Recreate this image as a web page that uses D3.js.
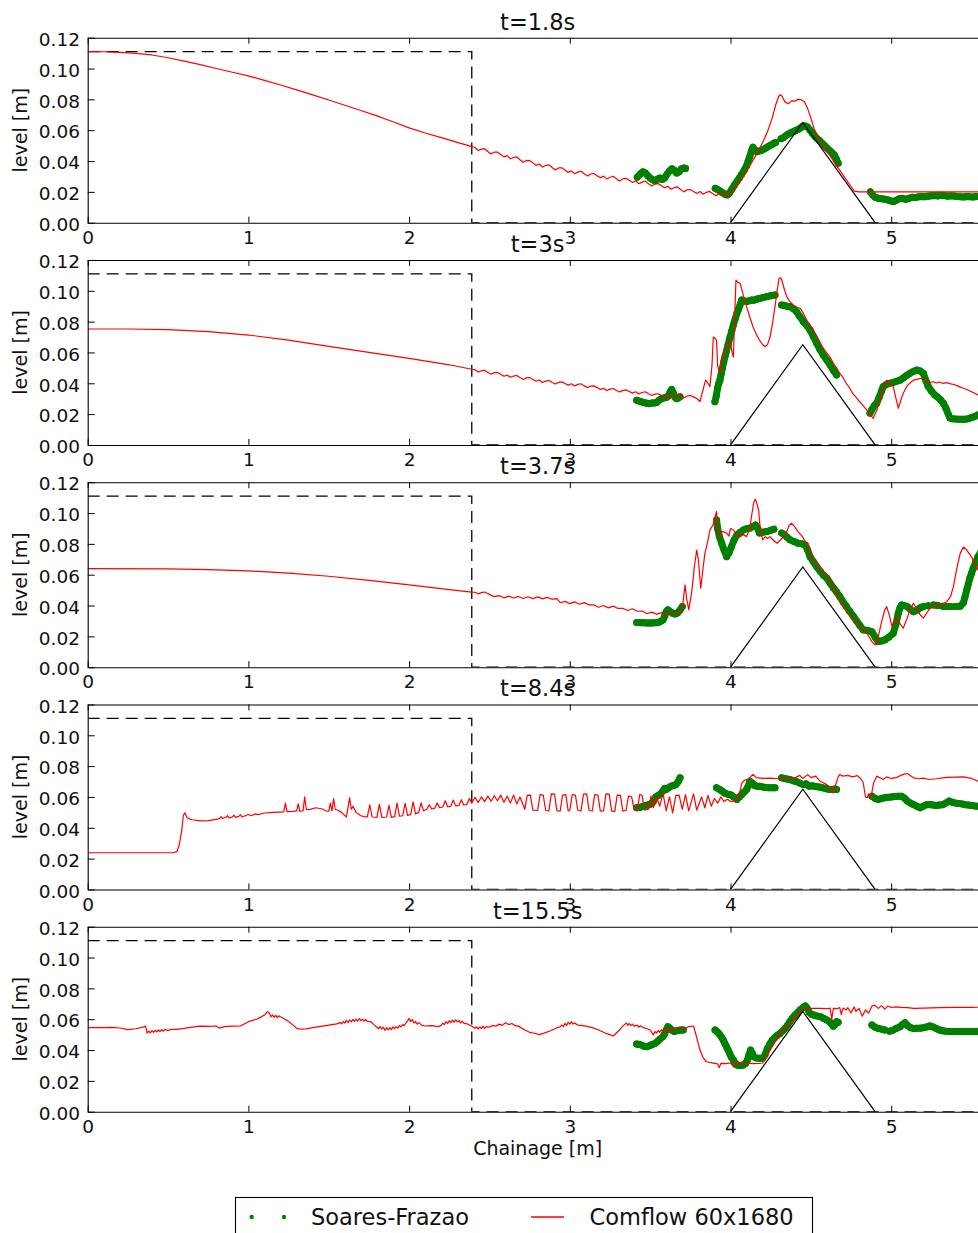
<!DOCTYPE html>
<html>
<head>
<meta charset="utf-8">
<script src="https://cdn.jsdelivr.net/npm/d3@7"></script>
<style>
  html, body { margin: 0; padding: 0; background: #fff; }
  svg { display: block; font-family: "DejaVu Sans", sans-serif; }
</style>
</head>
<body>
<svg id="chart" width="978" height="1233"></svg>
<script>
// ---------- axis ticks and labels ----------
const xTicks = [0, 1, 2, 3, 4, 5];
const yTicks = [0, 0.02, 0.04, 0.06, 0.08, 0.10, 0.12];
const panelTitles = ["t=1.8s", "t=3s", "t=3.7s", "t=8.4s", "t=15.5s"];
const xLabel = "Chainage [m]";
const yLabel = "level [m]";
const legendLabels = ["Soares-Frazao", "Comflow 60x1680"];

// ---------- geometry of the flume ----------
// initial reservoir level (dam at x = 2.39 m), then dry bed downstream
const initialLevel = [[0, 0.111], [2.39, 0.111], [2.39, 0], [5.6, 0]];
// triangular bottom sill
const obstacle = [[4.0, 0], [4.45, 0.065], [4.9, 0]];

// ---------- t = 1.8 s ----------
const comflow_1_8 = [
  [0,0.1110],[0.10,0.1109],[0.20,0.1105],[0.30,0.1098],[0.40,0.1088],[0.50,0.1070],[0.60,0.1048],[0.70,0.1025],
  [0.80,0.1000],[0.90,0.0976],[1.00,0.0952],[1.10,0.0923],[1.20,0.0893],[1.30,0.0862],[1.40,0.0829],[1.50,0.0796],
  [1.60,0.0762],[1.70,0.0728],[1.80,0.0693],[1.90,0.0655],[2.00,0.0615],[2.10,0.0582],[2.20,0.0552],[2.30,0.0521],[2.39,0.0493],
  [2.41,0.0488],[2.43,0.0468],[2.45,0.0477],[2.47,0.0480],[2.49,0.0462],[2.51,0.0446],[2.53,0.0458],[2.55,0.0458],
  [2.57,0.0443],[2.59,0.0427],[2.61,0.0435],[2.63,0.0415],[2.65,0.0423],[2.67,0.0427],[2.69,0.0408],[2.71,0.0392],
  [2.73,0.0403],[2.75,0.0404],[2.77,0.0388],[2.79,0.0372],[2.81,0.0381],[2.83,0.0361],[2.85,0.0371],[2.87,0.0375],
  [2.89,0.0358],[2.91,0.0342],[2.93,0.0355],[2.95,0.0356],[2.97,0.0342],[2.99,0.0326],[3.01,0.0336],[3.03,0.0318],
  [3.05,0.0328],[3.07,0.0334],[3.09,0.0317],[3.11,0.0303],[3.13,0.0316],[3.15,0.0319],[3.17,0.0305],[3.19,0.0291],
  [3.21,0.0302],[3.23,0.0284],[3.25,0.0295],[3.27,0.0301],[3.29,0.0285],[3.31,0.0271],[3.33,0.0285],[3.35,0.0288],
  [3.37,0.0275],[3.39,0.0261],[3.41,0.0271],[3.43,0.0253],[3.45,0.0263],[3.47,0.0269],[3.49,0.0252],[3.51,0.0238],
  [3.53,0.0251],[3.55,0.0254],[3.57,0.0240],[3.59,0.0226],[3.61,0.0236],[3.63,0.0217],[3.65,0.0227],[3.67,0.0232],
  [3.69,0.0215],[3.71,0.0200],[3.73,0.0213],[3.75,0.0215],[3.77,0.0203],[3.79,0.0190],[3.81,0.0202],[3.83,0.0185],
  [3.85,0.0197],[3.87,0.0203],[3.89,0.0188],[3.91,0.0175],[3.93,0.0190],[3.95,0.0194],[3.97,0.0170],
  [4.00,0.0190],[4.04,0.0245],[4.08,0.0300],[4.12,0.0370],[4.16,0.0440],[4.20,0.0520],[4.23,0.0590],[4.26,0.0680],
  [4.28,0.0760],[4.30,0.0820],[4.31,0.0830],[4.32,0.0822],[4.34,0.0782],[4.36,0.0772],[4.38,0.0790],[4.40,0.0788],
  [4.42,0.0800],[4.44,0.0798],[4.46,0.0785],[4.48,0.0740],[4.50,0.0680],[4.52,0.0610],[4.56,0.0530],[4.60,0.0465],
  [4.64,0.0400],[4.68,0.0340],[4.72,0.0280],[4.75,0.0235],[4.77,0.0205],[4.80,0.0200],[5.00,0.0200],[5.20,0.0200],
  [5.40,0.0200],[5.60,0.0200]
];
const soares_1_8 = [
  [3.42,0.0295],[3.44,0.0318],[3.455,0.0330],[3.47,0.0322],[3.485,0.0305],[3.50,0.0290],[3.515,0.0278],[3.53,0.0272],
  [3.545,0.0282],[3.56,0.0290],[3.575,0.0280],[3.59,0.0290],[3.605,0.0315],[3.62,0.0335],[3.635,0.0350],[3.65,0.0340],
  [3.665,0.0322],[3.68,0.0330],[3.695,0.0350],[3.71,0.0355],[3.72,0.0352],
  [3.905,0.0223],[3.92,0.0215],[3.935,0.0205],[3.95,0.0195],[3.965,0.0185],[3.98,0.0180],[3.995,0.0195],[4.01,0.0220],
  [4.025,0.0245],[4.04,0.0268],[4.055,0.0290],[4.07,0.0315],[4.085,0.0340],[4.10,0.0370],[4.11,0.0400],[4.12,0.0430],
  [4.13,0.0465],[4.14,0.0490],[4.15,0.0475],[4.165,0.0460],[4.18,0.0465],[4.195,0.0470],[4.21,0.0478],[4.225,0.0488],
  [4.24,0.0498],[4.255,0.0505],[4.27,0.0515],[4.28,0.0520],
  [4.315,0.0545],[4.33,0.0552],[4.345,0.0565],[4.36,0.0575],[4.375,0.0583],[4.39,0.0590],[4.405,0.0598],[4.42,0.0605],
  [4.435,0.0615],[4.45,0.0625],[4.465,0.0628],[4.48,0.0620],[4.495,0.0600],[4.51,0.0580],[4.525,0.0560],[4.54,0.0545],
  [4.555,0.0532],[4.57,0.0515],[4.585,0.0500],[4.60,0.0485],[4.615,0.0470],[4.63,0.0455],[4.645,0.0440],[4.66,0.0410],
  [4.67,0.0385],
  [4.87,0.0200],[4.885,0.0180],[4.90,0.0165],[4.92,0.0158],[4.94,0.0155],[4.96,0.0152],[4.98,0.0148],[5.00,0.0140],
  [5.015,0.0137],[5.03,0.0145],[5.05,0.0155],[5.07,0.0158],[5.09,0.0152],[5.11,0.0158],[5.13,0.0165],[5.15,0.0163],
  [5.17,0.0168],[5.19,0.0170],[5.21,0.0168],[5.23,0.0172],[5.25,0.0175],[5.27,0.0176],[5.29,0.0174],[5.31,0.0178],
  [5.33,0.0176],[5.35,0.0172],[5.37,0.0175],[5.39,0.0173],[5.41,0.0170],[5.43,0.0168],[5.45,0.0166],[5.47,0.0170],
  [5.49,0.0168],[5.51,0.0167],[5.53,0.0170],[5.55,0.0170],[5.57,0.0170],[5.59,0.0170]
];

// ---------- t = 3 s ----------
const comflow_3 = [
  [0,0.0752],[0.25,0.0752],[0.50,0.0748],[0.75,0.0735],[1.00,0.0713],[1.25,0.0680],[1.50,0.0640],[1.75,0.0600],
  [2.00,0.0562],[2.25,0.0520],[2.39,0.0491],
  [2.41,0.0488],[2.43,0.0473],[2.45,0.0481],[2.47,0.0485],[2.49,0.0470],[2.51,0.0459],[2.53,0.0469],[2.55,0.0470],
  [2.57,0.0459],[2.59,0.0446],[2.61,0.0454],[2.63,0.0439],[2.65,0.0447],[2.67,0.0451],[2.69,0.0437],[2.71,0.0425],
  [2.73,0.0435],[2.75,0.0437],[2.77,0.0425],[2.79,0.0413],[2.81,0.0421],[2.83,0.0405],[2.85,0.0414],[2.87,0.0419],
  [2.89,0.0405],[2.91,0.0395],[2.93,0.0406],[2.95,0.0409],[2.97,0.0399],[2.99,0.0388],[3.01,0.0397],[3.03,0.0383],
  [3.05,0.0393],[3.07,0.0397],[3.09,0.0383],[3.11,0.0372],[3.13,0.0382],[3.15,0.0383],[3.17,0.0372],[3.19,0.0360],
  [3.21,0.0368],[3.23,0.0353],[3.25,0.0362],[3.27,0.0366],[3.29,0.0353],[3.31,0.0343],[3.33,0.0354],[3.35,0.0357],
  [3.37,0.0347],[3.39,0.0336],[3.41,0.0345],[3.43,0.0330],[3.45,0.0340],[3.47,0.0345],[3.49,0.0332],[3.51,0.0321],
  [3.53,0.0330],[3.55,0.0332],[3.57,0.0320],[3.59,0.0309],[3.61,0.0320],[3.63,0.0307],[3.65,0.0319],[3.67,0.0325],
  [3.69,0.0314],[3.71,0.0305],[3.73,0.0317],[3.75,0.0321],[3.77,0.0312],[3.79,0.0301],[3.81,0.0282],
  [3.83,0.0360],[3.845,0.0420],[3.86,0.0400],[3.872,0.0378],[3.885,0.0520],[3.893,0.0700],[3.905,0.0690],[3.913,0.0680],
  [3.92,0.0510],[3.934,0.0466],[3.95,0.0560],[3.966,0.0616],[3.985,0.0660],[3.997,0.0680],[4.01,0.0600],[4.018,0.0570],
  [4.025,0.0800],[4.034,0.1070],[4.045,0.1055],[4.06,0.1048],[4.08,0.0970],[4.10,0.0897],[4.12,0.0830],[4.14,0.0767],
  [4.16,0.0720],[4.18,0.0680],[4.20,0.0650],[4.215,0.0638],[4.23,0.0650],[4.246,0.0700],[4.26,0.0780],[4.277,0.0897],
  [4.29,0.1000],[4.302,0.1080],[4.31,0.1085],[4.318,0.1075],[4.335,0.1010],[4.35,0.0962],[4.37,0.0930],[4.39,0.0908],
  [4.41,0.0895],[4.432,0.0887],[4.45,0.0860],[4.474,0.0810],[4.495,0.0775],[4.515,0.0746],[4.54,0.0700],[4.57,0.0640],
  [4.60,0.0595],[4.62,0.0568],[4.64,0.0530],[4.66,0.0500],[4.68,0.0465],[4.70,0.0438],[4.72,0.0400],[4.74,0.0372],
  [4.76,0.0335],[4.78,0.0312],[4.80,0.0285],[4.82,0.0262],[4.847,0.0227],[4.87,0.0195],[4.888,0.0173],[4.91,0.0225],
  [4.93,0.0290],[4.95,0.0360],[4.97,0.0420],[4.99,0.0400],[5.013,0.0378],[5.03,0.0300],[5.044,0.0238],[5.06,0.0290],
  [5.075,0.0335],[5.10,0.0385],[5.12,0.0405],[5.138,0.0420],[5.16,0.0425],[5.18,0.0433],[5.20,0.0425],[5.22,0.0418],
  [5.24,0.0404],[5.26,0.0410],[5.28,0.0402],[5.30,0.0408],[5.32,0.0400],[5.346,0.0404],[5.37,0.0396],[5.39,0.0392],
  [5.41,0.0385],[5.43,0.0375],[5.45,0.0368],[5.47,0.0360],[5.49,0.0350],[5.51,0.0340],[5.54,0.0324],[5.57,0.0315],
  [5.60,0.0310]
];
const soares_3 = [
  [3.416,0.0290],[3.43,0.0285],[3.445,0.0280],[3.46,0.0276],[3.478,0.0270],[3.495,0.0268],[3.51,0.0272],[3.525,0.0272],
  [3.54,0.0275],[3.555,0.0290],[3.57,0.0300],[3.585,0.0305],[3.60,0.0308],[3.615,0.0320],[3.625,0.0345],[3.634,0.0360],
  [3.645,0.0335],[3.655,0.0310],[3.665,0.0300],[3.675,0.0305],[3.686,0.0313],
  [3.903,0.0280],[3.912,0.0320],[3.92,0.0370],[3.927,0.0400],[3.934,0.0420],[3.942,0.0460],[3.95,0.0500],[3.958,0.0540],
  [3.966,0.0573],[3.975,0.0610],[3.985,0.0650],[3.997,0.0700],[4.008,0.0740],[4.018,0.0780],[4.03,0.0820],[4.04,0.0854],
  [4.05,0.0880],[4.06,0.0910],[4.07,0.0940],[4.085,0.0935],[4.10,0.0930],[4.115,0.0935],[4.13,0.0940],[4.145,0.0938],
  [4.16,0.0945],[4.18,0.0950],[4.20,0.0955],[4.225,0.0962],[4.25,0.0968],[4.277,0.0973],
  [4.318,0.0908],[4.335,0.0905],[4.35,0.0900],[4.37,0.0897],[4.39,0.0885],[4.41,0.0865],[4.43,0.0835],[4.453,0.0800],
  [4.475,0.0775],[4.495,0.0746],[4.515,0.0705],[4.536,0.0660],[4.556,0.0620],[4.577,0.0584],[4.60,0.0550],[4.62,0.0519],
  [4.64,0.0485],[4.66,0.0454],
  [4.868,0.0206],[4.88,0.0230],[4.895,0.0255],[4.91,0.0270],[4.925,0.0310],[4.94,0.0350],[4.95,0.0378],[4.97,0.0392],
  [4.99,0.0400],[5.01,0.0405],[5.03,0.0412],[5.055,0.0420],[5.075,0.0435],[5.095,0.0450],[5.117,0.0465],[5.14,0.0478],
  [5.16,0.0486],[5.18,0.0480],[5.20,0.0465],[5.215,0.0420],[5.23,0.0380],[5.25,0.0350],[5.27,0.0325],[5.29,0.0310],
  [5.305,0.0295],[5.325,0.0270],[5.34,0.0240],[5.355,0.0200],[5.366,0.0175],[5.38,0.0170],[5.40,0.0168],[5.42,0.0167],
  [5.44,0.0166],[5.46,0.0167],[5.48,0.0170],[5.50,0.0178],[5.52,0.0185],[5.54,0.0195],[5.56,0.0200],[5.58,0.0205],
  [5.60,0.0210]
];

// ---------- t = 3.7 s ----------
const comflow_3_7 = [
  [0,0.0640],[0.50,0.0638],[0.75,0.0633],[1.00,0.0625],[1.25,0.0610],[1.50,0.0590],[1.75,0.0563],[2.00,0.0534],
  [2.25,0.0503],[2.39,0.0487],
  [2.41,0.0486],[2.43,0.0476],[2.45,0.0484],[2.47,0.0488],[2.49,0.0478],[2.51,0.0466],[2.53,0.0458],[2.56,0.0464],
  [2.59,0.0450],[2.62,0.0461],[2.65,0.0449],[2.68,0.0459],[2.71,0.0446],[2.74,0.0457],[2.77,0.0445],[2.80,0.0456],
  [2.83,0.0443],[2.86,0.0453],[2.89,0.0441],[2.92,0.0445],[2.94,0.0418],[2.97,0.0427],[3.00,0.0412],[3.03,0.0424],
  [3.06,0.0408],[3.09,0.0419],[3.12,0.0404],[3.15,0.0404],[3.18,0.0389],[3.21,0.0400],[3.24,0.0385],[3.27,0.0396],
  [3.30,0.0381],[3.33,0.0382],[3.36,0.0368],[3.39,0.0379],[3.42,0.0363],[3.45,0.0364],[3.48,0.0347],[3.51,0.0357],
  [3.54,0.0343],[3.57,0.0354],[3.60,0.0341],[3.63,0.0353],[3.66,0.0350],[3.686,0.0360],
  [3.70,0.0380],[3.717,0.0534],
  [3.728,0.0440],[3.74,0.0372],[3.758,0.0480],[3.775,0.0650],[3.79,0.0760],[3.80,0.0700],[3.815,0.0512],[3.83,0.0650],
  [3.841,0.0740],[3.855,0.0800],[3.872,0.0890],[3.89,0.0920],[3.905,0.0980],[3.913,0.1010],[3.92,0.0900],[3.93,0.0847],
  [3.95,0.0880],[3.976,0.0870],[3.99,0.0850],[4.00,0.0900],[4.018,0.0890],[4.04,0.0860],[4.06,0.0847],[4.08,0.0860],
  [4.10,0.0847],[4.12,0.0900],[4.134,0.1000],[4.145,0.1070],[4.155,0.1090],[4.165,0.1060],[4.175,0.1020],[4.185,0.0900],
  [4.20,0.0826],[4.216,0.0847],[4.23,0.0835],[4.246,0.0847],[4.26,0.0830],[4.275,0.0815],[4.29,0.0804],[4.31,0.0825],
  [4.33,0.0847],[4.35,0.0880],[4.365,0.0920],[4.38,0.0934],[4.40,0.0910],[4.42,0.0880],[4.445,0.0850],[4.466,0.0815],
  [4.49,0.0755],[4.515,0.0696],[4.54,0.0660],[4.57,0.0625],[4.60,0.0588],[4.62,0.0555],[4.64,0.0515],[4.66,0.0478],
  [4.68,0.0437],[4.70,0.0405],[4.72,0.0370],[4.74,0.0345],[4.766,0.0307],[4.79,0.0282],[4.81,0.0260],[4.83,0.0240],
  [4.85,0.0220],[4.88,0.0165],[4.90,0.0145],[4.92,0.0200],[4.943,0.0307],[4.96,0.0370],[4.972,0.0393],[4.99,0.0330],
  [5.005,0.0263],[5.02,0.0300],[5.034,0.0328],[5.05,0.0290],[5.075,0.0253],[5.10,0.0320],[5.12,0.0380],[5.138,0.0415],
  [5.16,0.0380],[5.18,0.0340],[5.20,0.0318],[5.22,0.0350],[5.24,0.0380],[5.263,0.0393],[5.29,0.0400],[5.32,0.0408],
  [5.346,0.0425],[5.37,0.0460],[5.387,0.0523],[5.41,0.0650],[5.43,0.0740],[5.45,0.0780],[5.47,0.0760],[5.49,0.0730],
  [5.51,0.0696],[5.53,0.0660],[5.54,0.0630],[5.57,0.0600],[5.60,0.0580]
];
const soares_3_7 = [
  [3.416,0.0290],[3.43,0.0290],[3.445,0.0289],[3.46,0.0288],[3.478,0.0287],[3.495,0.0286],[3.51,0.0287],[3.525,0.0288],
  [3.54,0.0289],[3.555,0.0292],[3.57,0.0300],[3.58,0.0307],[3.59,0.0330],[3.60,0.0360],[3.61,0.0372],[3.625,0.0360],
  [3.64,0.0350],[3.655,0.0345],[3.67,0.0352],[3.685,0.0370],[3.70,0.0393],
  [3.913,0.0955],[3.92,0.0900],[3.93,0.0850],[3.945,0.0804],[3.96,0.0760],[3.976,0.0717],[3.99,0.0740],[4.005,0.0780],
  [4.02,0.0820],[4.04,0.0858],[4.06,0.0875],[4.08,0.0890],[4.10,0.0898],[4.12,0.0902],[4.14,0.0912],[4.155,0.0923],
  [4.17,0.0900],[4.18,0.0870],[4.20,0.0875],[4.225,0.0880],[4.25,0.0888],[4.27,0.0895],
  [4.318,0.0870],[4.335,0.0860],[4.35,0.0845],[4.37,0.0826],[4.395,0.0815],[4.42,0.0804],[4.445,0.0800],[4.466,0.0793],
  [4.48,0.0760],[4.495,0.0717],[4.515,0.0685],[4.536,0.0653],[4.56,0.0620],[4.58,0.0595],[4.60,0.0577],[4.62,0.0545],
  [4.64,0.0515],[4.66,0.0488],[4.68,0.0458],[4.70,0.0425],[4.72,0.0395],[4.74,0.0365],[4.766,0.0328],[4.785,0.0300],
  [4.805,0.0270],[4.826,0.0242],[4.845,0.0240],[4.865,0.0235],[4.88,0.0230],[4.90,0.0195],[4.92,0.0166],[4.94,0.0170],
  [4.96,0.0177],[4.985,0.0195],[5.013,0.0220],[5.03,0.0280],[5.044,0.0350],[5.055,0.0385],[5.065,0.0404],[5.08,0.0400],
  [5.10,0.0393],[5.12,0.0375],[5.138,0.0360],[5.16,0.0370],[5.18,0.0385],[5.20,0.0393],[5.23,0.0398],[5.263,0.0404],
  [5.29,0.0400],[5.32,0.0396],[5.346,0.0393],[5.37,0.0393],[5.40,0.0393],[5.43,0.0395],[5.45,0.0420],[5.46,0.0460],
  [5.47,0.0500],[5.48,0.0540],[5.49,0.0580],[5.50,0.0610],[5.51,0.0640],[5.525,0.0680],[5.54,0.0717],[5.56,0.0750],
  [5.58,0.0760],[5.60,0.0765]
];

// ---------- t = 8.4 s ----------
const comflow_8_4 = [
  [0,0.0238],[0.20,0.0238],[0.40,0.0238],[0.53,0.0238],[0.555,0.0245],[0.57,0.0290],[0.585,0.0380],[0.595,0.0480],
  [0.605,0.0497],[0.616,0.0470],[0.63,0.0458],[0.65,0.0452],[0.70,0.0445],[0.75,0.0447],[0.80,0.0455],[0.82,0.0460],
  [0.83,0.0472],[0.84,0.0460],[0.86,0.0468],[0.87,0.0478],[0.88,0.0464],[0.90,0.0470],[0.91,0.0482],[0.92,0.0468],
  [0.94,0.0474],[0.95,0.0485],[0.96,0.0470],[0.98,0.0478],[1.00,0.0486],[1.02,0.0478],[1.04,0.0490],[1.06,0.0485],
  [1.10,0.0496],[1.15,0.0500],[1.20,0.0502],[1.22,0.0503],[1.23,0.0560],[1.24,0.0505],[1.28,0.0506],[1.30,0.0510],
  [1.31,0.0555],[1.32,0.0508],[1.34,0.0510],[1.35,0.0600],[1.36,0.0520],[1.38,0.0518],[1.42,0.0530],[1.46,0.0522],
  [1.48,0.0510],[1.50,0.0508],[1.51,0.0560],[1.52,0.0510],[1.53,0.0590],[1.54,0.0520],[1.56,0.0512],[1.58,0.0500],
  [1.60,0.0480],[1.61,0.0470],[1.63,0.0595],[1.64,0.0520],[1.65,0.0540],[1.67,0.0500],[1.70,0.0478],[1.72,0.0472],
  [1.74,0.0470],[1.755,0.0548],[1.77,0.0470],[1.80,0.0468],[1.815,0.0552],[1.83,0.0468],[1.86,0.0470],[1.875,0.0545],
  [1.89,0.0468],[1.91,0.0472],[1.925,0.0560],[1.94,0.0475],[1.96,0.0478],[1.975,0.0558],[1.99,0.0480],[2.01,0.0485],
  [2.025,0.0568],[2.04,0.0490],[2.06,0.0500],[2.075,0.0562],[2.09,0.0510],[2.11,0.0520],[2.125,0.0550],[2.14,0.0522],
  [2.16,0.0528],[2.175,0.0560],[2.19,0.0530],[2.21,0.0535],[2.225,0.0575],[2.24,0.0535],[2.26,0.0540],[2.275,0.0580],
  [2.29,0.0542],[2.31,0.0545],[2.325,0.0582],[2.34,0.0548],[2.36,0.0552],[2.375,0.0590],[2.39,0.0560],
  [2.41,0.0598],[2.43,0.0565],[2.45,0.0600],[2.47,0.0570],[2.49,0.0605],[2.51,0.0572],[2.53,0.0608],[2.55,0.0575],
  [2.57,0.0612],[2.59,0.0565],[2.61,0.0605],[2.63,0.0560],[2.65,0.0612],[2.67,0.0555],[2.69,0.0600],
  [2.72,0.0520],[2.735,0.0610],[2.755,0.0612],[2.77,0.0515],[2.80,0.0512],[2.815,0.0615],[2.835,0.0610],[2.85,0.0512],
  [2.87,0.0510],[2.885,0.0620],[2.905,0.0618],[2.92,0.0510],[2.94,0.0508],[2.955,0.0612],[2.975,0.0615],[2.99,0.0510],
  [3.00,0.0512],[3.015,0.0615],[3.035,0.0612],[3.05,0.0512],[3.07,0.0510],[3.085,0.0618],[3.105,0.0620],[3.12,0.0512],
  [3.14,0.0510],[3.155,0.0615],[3.175,0.0612],[3.19,0.0508],[3.21,0.0510],[3.225,0.0620],[3.245,0.0618],[3.26,0.0510],
  [3.28,0.0505],[3.295,0.0612],[3.315,0.0610],[3.33,0.0508],[3.35,0.0512],[3.365,0.0605],[3.385,0.0600],[3.40,0.0520],
  [3.42,0.0515],[3.435,0.0615],[3.45,0.0610],[3.465,0.0515],[3.49,0.0520],[3.505,0.0605],[3.52,0.0530],[3.54,0.0600],
  [3.56,0.0540],[3.58,0.0625],[3.60,0.0510],[3.62,0.0600],[3.64,0.0497],[3.66,0.0610],[3.68,0.0612],[3.70,0.0520],
  [3.72,0.0615],[3.74,0.0510],[3.77,0.0620],[3.79,0.0515],[3.82,0.0600],[3.84,0.0530],[3.86,0.0610],[3.88,0.0540],
  [3.90,0.0590],[3.92,0.0560],[3.94,0.0600],[3.96,0.0570],[3.98,0.0585],[4.00,0.0570],[4.018,0.0573],
  [4.05,0.0595],[4.07,0.0690],[4.09,0.0710],[4.11,0.0715],[4.14,0.0746],[4.16,0.0725],[4.20,0.0720],[4.25,0.0722],
  [4.30,0.0718],[4.33,0.0725],[4.36,0.0715],[4.40,0.0722],[4.43,0.0740],[4.45,0.0720],[4.48,0.0745],[4.50,0.0725],
  [4.53,0.0735],[4.56,0.0700],[4.60,0.0680],[4.62,0.0650],[4.64,0.0627],[4.655,0.0680],[4.67,0.0730],[4.68,0.0746],
  [4.70,0.0735],[4.73,0.0740],[4.76,0.0730],[4.79,0.0738],[4.81,0.0720],[4.826,0.0692],[4.84,0.0600],[4.85,0.0595],
  [4.86,0.0620],[4.875,0.0600],[4.89,0.0690],[4.91,0.0735],[4.93,0.0725],[4.95,0.0713],[4.97,0.0730],[5.00,0.0720],
  [5.03,0.0725],[5.06,0.0740],[5.08,0.0748],[5.10,0.0752],[5.12,0.0738],[5.14,0.0724],[5.17,0.0718],[5.20,0.0722],
  [5.24,0.0713],[5.28,0.0718],[5.32,0.0724],[5.35,0.0727],[5.40,0.0728],[5.45,0.0730],[5.50,0.0720],[5.54,0.0702],
  [5.58,0.0695],[5.60,0.0690]
];
const soares_8_4 = [
  [3.416,0.0530],[3.43,0.0532],[3.445,0.0535],[3.46,0.0540],[3.475,0.0545],[3.49,0.0550],[3.505,0.0555],[3.52,0.0570],
  [3.535,0.0600],[3.55,0.0610],[3.565,0.0620],[3.58,0.0640],[3.59,0.0655],[3.60,0.0649],[3.615,0.0660],[3.63,0.0670],
  [3.645,0.0675],[3.66,0.0680],[3.675,0.0700],[3.686,0.0724],
  [3.913,0.0660],[3.93,0.0650],[3.945,0.0640],[3.96,0.0627],[3.975,0.0620],[3.99,0.0616],[4.005,0.0612],[4.02,0.0600],
  [4.04,0.0584],[4.055,0.0600],[4.07,0.0616],[4.085,0.0632],[4.10,0.0649],[4.11,0.0670],[4.12,0.0702],[4.135,0.0690],
  [4.15,0.0675],[4.165,0.0670],[4.18,0.0670],[4.20,0.0665],[4.22,0.0662],[4.24,0.0660],[4.26,0.0660],[4.277,0.0660],
  [4.318,0.0724],[4.335,0.0720],[4.35,0.0716],[4.37,0.0713],[4.39,0.0705],[4.41,0.0700],[4.43,0.0690],[4.453,0.0680],
  [4.47,0.0685],[4.49,0.0670],[4.51,0.0672],[4.53,0.0668],[4.55,0.0665],[4.57,0.0660],[4.59,0.0655],[4.61,0.0650],
  [4.63,0.0649],[4.65,0.0652],[4.66,0.0649],
  [4.88,0.0605],[4.90,0.0590],[4.92,0.0584],[4.94,0.0590],[4.96,0.0595],[4.98,0.0598],[5.00,0.0600],[5.02,0.0603],
  [5.045,0.0605],[5.065,0.0605],[5.085,0.0590],[5.10,0.0573],[5.12,0.0560],[5.14,0.0550],[5.16,0.0540],[5.18,0.0530],
  [5.20,0.0540],[5.22,0.0550],[5.24,0.0551],[5.26,0.0548],[5.28,0.0545],[5.30,0.0548],[5.32,0.0550],[5.34,0.0560],
  [5.36,0.0573],[5.38,0.0565],[5.40,0.0560],[5.42,0.0558],[5.44,0.0555],[5.46,0.0550],[5.48,0.0548],[5.50,0.0545],
  [5.52,0.0542],[5.54,0.0540],[5.56,0.0538],[5.58,0.0535],[5.60,0.0535]
];

// ---------- t = 15.5 s ----------
const comflow_15_5 = [
  [0,0.0545],[0.05,0.0546],[0.10,0.0545],[0.15,0.0547],[0.20,0.0543],[0.25,0.0532],[0.30,0.0538],[0.35,0.0550],
  [0.36,0.0556],[0.37,0.0509],[0.38,0.0522],[0.39,0.0512],[0.40,0.0526],[0.41,0.0514],[0.42,0.0528],[0.43,0.0518],
  [0.44,0.0530],[0.45,0.0520],[0.46,0.0532],[0.47,0.0522],[0.48,0.0534],[0.50,0.0526],[0.52,0.0534],[0.55,0.0534],
  [0.60,0.0540],[0.65,0.0548],[0.70,0.0555],[0.75,0.0553],[0.80,0.0556],[0.82,0.0542],[0.85,0.0552],[0.90,0.0555],
  [0.95,0.0556],[1.00,0.0584],[1.05,0.0600],[1.08,0.0615],[1.10,0.0627],[1.12,0.0649],[1.13,0.0640],[1.14,0.0615],
  [1.15,0.0628],[1.16,0.0612],[1.17,0.0625],[1.18,0.0610],[1.19,0.0622],[1.20,0.0616],[1.22,0.0605],[1.25,0.0585],
  [1.28,0.0560],[1.30,0.0541],[1.33,0.0535],[1.36,0.0537],[1.40,0.0545],[1.45,0.0553],[1.50,0.0562],[1.55,0.0570],
  [1.57,0.0578],[1.58,0.0570],[1.59,0.0585],[1.60,0.0575],[1.61,0.0592],[1.62,0.0580],[1.63,0.0595],[1.64,0.0583],
  [1.65,0.0598],[1.66,0.0586],[1.67,0.0600],[1.68,0.0588],[1.69,0.0603],[1.70,0.0590],[1.71,0.0600],[1.72,0.0588],
  [1.73,0.0598],[1.74,0.0586],[1.76,0.0585],[1.78,0.0565],[1.80,0.0548],[1.81,0.0538],[1.82,0.0552],[1.83,0.0536],
  [1.84,0.0548],[1.85,0.0528],[1.86,0.0545],[1.87,0.0530],[1.88,0.0546],[1.89,0.0532],[1.90,0.0550],[1.91,0.0538],
  [1.92,0.0552],[1.93,0.0542],[1.94,0.0560],[1.95,0.0550],[1.96,0.0565],[1.97,0.0558],[1.98,0.0575],[1.99,0.0588],
  [2.00,0.0605],[2.01,0.0585],[2.02,0.0598],[2.03,0.0575],[2.04,0.0585],[2.05,0.0568],[2.06,0.0578],[2.08,0.0560],
  [2.10,0.0556],[2.14,0.0558],[2.18,0.0552],[2.20,0.0560],[2.21,0.0575],[2.22,0.0565],[2.23,0.0585],[2.24,0.0572],
  [2.25,0.0590],[2.26,0.0578],[2.27,0.0595],[2.28,0.0580],[2.29,0.0596],[2.30,0.0582],[2.31,0.0592],[2.32,0.0575],
  [2.33,0.0588],[2.34,0.0575],[2.36,0.0570],[2.39,0.0555],[2.41,0.0541],[2.42,0.0550],[2.43,0.0536],[2.44,0.0550],
  [2.45,0.0540],[2.46,0.0555],[2.47,0.0538],[2.48,0.0552],[2.50,0.0548],[2.52,0.0560],[2.54,0.0555],[2.56,0.0568],
  [2.58,0.0560],[2.60,0.0577],[2.62,0.0565],[2.64,0.0572],[2.66,0.0558],[2.68,0.0555],[2.72,0.0530],[2.75,0.0515],
  [2.78,0.0509],[2.81,0.0500],[2.84,0.0510],[2.88,0.0525],[2.92,0.0545],[2.94,0.0550],[2.95,0.0562],[2.96,0.0552],
  [2.97,0.0572],[2.98,0.0560],[2.99,0.0580],[3.00,0.0568],[3.01,0.0584],[3.02,0.0568],[3.03,0.0576],[3.05,0.0562],
  [3.08,0.0558],[3.10,0.0555],[3.14,0.0545],[3.18,0.0530],[3.22,0.0510],[3.25,0.0500],[3.27,0.0491],[3.30,0.0520],
  [3.33,0.0555],[3.34,0.0565],[3.354,0.0575],[3.36,0.0560],[3.37,0.0572],[3.38,0.0558],[3.39,0.0568],[3.40,0.0555],
  [3.42,0.0562],[3.43,0.0548],[3.44,0.0558],[3.46,0.0545],[3.48,0.0538],[3.50,0.0530],[3.52,0.0498],[3.53,0.0520],
  [3.54,0.0510],[3.55,0.0528],[3.56,0.0515],[3.57,0.0532],[3.58,0.0520],[3.59,0.0535],[3.60,0.0522],[3.61,0.0536],
  [3.62,0.0524],[3.63,0.0540],[3.64,0.0528],[3.66,0.0542],[3.68,0.0535],[3.70,0.0548],[3.72,0.0540],[3.74,0.0552],
  [3.77,0.0556],[3.79,0.0480],[3.81,0.0400],[3.83,0.0350],[3.85,0.0324],[3.88,0.0318],[3.90,0.0314],[3.92,0.0310],
  [3.93,0.0285],[3.94,0.0314],[3.97,0.0312],[4.00,0.0316],[4.02,0.0290],[4.03,0.0316],[4.06,0.0314],[4.10,0.0316],
  [4.14,0.0312],[4.18,0.0314],[4.20,0.0316],[4.23,0.0370],[4.27,0.0440],[4.31,0.0508],[4.35,0.0555],[4.39,0.0595],
  [4.42,0.0635],[4.443,0.0660],[4.47,0.0668],[4.515,0.0670],[4.56,0.0670],[4.60,0.0668],[4.62,0.0672],[4.63,0.0600],
  [4.64,0.0670],[4.66,0.0668],[4.68,0.0675],[4.69,0.0630],[4.70,0.0672],[4.72,0.0660],[4.73,0.0675],[4.75,0.0640],
  [4.77,0.0680],[4.78,0.0650],[4.80,0.0670],[4.82,0.0620],[4.84,0.0660],[4.86,0.0640],[4.88,0.0686],[4.90,0.0690],
  [4.92,0.0670],[4.94,0.0688],[4.96,0.0665],[4.98,0.0686],[5.00,0.0676],[5.03,0.0680],[5.06,0.0677],[5.10,0.0675],
  [5.14,0.0670],[5.20,0.0672],[5.30,0.0675],[5.40,0.0677],[5.50,0.0677],[5.60,0.0678]
];
const soares_15_5 = [
  [3.416,0.0439],[3.43,0.0436],[3.445,0.0432],[3.46,0.0425],[3.478,0.0422],[3.495,0.0428],[3.51,0.0435],[3.53,0.0443],
  [3.545,0.0455],[3.56,0.0470],[3.58,0.0487],[3.59,0.0505],[3.60,0.0530],[3.61,0.0551],[3.62,0.0545],[3.635,0.0530],
  [3.65,0.0520],[3.665,0.0525],[3.68,0.0528],[3.695,0.0530],[3.706,0.0530],
  [3.904,0.0530],[3.915,0.0520],[3.925,0.0510],[3.935,0.0498],[3.945,0.0482],[3.955,0.0465],[3.965,0.0442],[3.975,0.0422],
  [3.985,0.0400],[3.995,0.0378],[4.005,0.0355],[4.018,0.0335],[4.03,0.0315],[4.04,0.0303],[4.055,0.0300],[4.07,0.0302],
  [4.08,0.0303],[4.095,0.0315],[4.105,0.0335],[4.115,0.0370],[4.125,0.0400],[4.135,0.0380],[4.145,0.0357],[4.16,0.0348],
  [4.18,0.0346],[4.20,0.0346],[4.215,0.0370],[4.23,0.0411],[4.245,0.0440],[4.26,0.0465],[4.275,0.0480],[4.29,0.0495],
  [4.308,0.0508],[4.325,0.0525],[4.34,0.0541],[4.355,0.0560],[4.37,0.0585],[4.385,0.0606],[4.40,0.0625],[4.415,0.0640],
  [4.432,0.0660],[4.45,0.0675],[4.465,0.0686],[4.475,0.0675],[4.49,0.0645],[4.505,0.0630],[4.52,0.0627],[4.54,0.0620],
  [4.56,0.0616],[4.58,0.0605],[4.60,0.0595],[4.62,0.0580],[4.64,0.0555],[4.65,0.0565],[4.66,0.0584],[4.67,0.0580],
  [4.88,0.0562],[4.90,0.0548],[4.92,0.0540],[4.94,0.0535],[4.96,0.0530],[4.99,0.0522],[5.01,0.0528],[5.03,0.0540],
  [5.055,0.0551],[5.07,0.0565],[5.086,0.0577],[5.10,0.0560],[5.12,0.0545],[5.14,0.0540],[5.16,0.0541],[5.18,0.0541],
  [5.20,0.0545],[5.22,0.0550],[5.24,0.0556],[5.26,0.0550],[5.28,0.0540],[5.30,0.0530],[5.32,0.0525],[5.34,0.0522],
  [5.366,0.0520],[5.39,0.0520],[5.41,0.0520],[5.43,0.0520],[5.45,0.0520],[5.47,0.0520],[5.49,0.0520],[5.51,0.0520],
  [5.53,0.0520],[5.55,0.0522],[5.57,0.0524],[5.60,0.0525]
];

const panels = [
  { title: panelTitles[0], comflow: comflow_1_8,  soares: soares_1_8 },
  { title: panelTitles[1], comflow: comflow_3,    soares: soares_3 },
  { title: panelTitles[2], comflow: comflow_3_7,  soares: soares_3_7 },
  { title: panelTitles[3], comflow: comflow_8_4,  soares: soares_8_4 },
  { title: panelTitles[4], comflow: comflow_15_5, soares: soares_15_5 }
];

// ---------- layout ----------
const FONT = '"DejaVu Sans", sans-serif';
const RED = "#ff0000", GREEN = "#008000";
const plotLeft = 87.7, pxPerMetre = 160.7, xMax = 5.6;
const firstTop = 37.7, panelH = 185, panelStep = 222.25;
const markerR = 3.5;

const x = d3.scaleLinear().domain([0, xMax]).range([plotLeft, plotLeft + xMax * pxPerMetre]);
const svg = d3.select("#chart");

// splits a measured series into runs of closely spaced samples
function runsOf(points, maxGap) {
  const runs = [];
  let cur = [];
  points.forEach((pt, k) => {
    if (k > 0 && pt[0] - points[k - 1][0] > maxGap) { runs.push(cur); cur = []; }
    cur.push(pt);
  });
  if (cur.length) runs.push(cur);
  return runs;
}

panels.forEach((p, i) => {
  const top = firstTop + i * panelStep;
  const bottom = top + panelH;
  const y = d3.scaleLinear().domain([0, 0.12]).range([bottom, top]);
  const line = d3.line().x(d => x(d[0])).y(d => y(d[1]));

  const clipId = "clip" + i;
  svg.append("clipPath").attr("id", clipId)
    .append("rect").attr("x", x(0)).attr("y", top).attr("width", x(xMax) - x(0)).attr("height", panelH);

  const plot = svg.append("g").attr("clip-path", `url(#${clipId})`);

  // initial water level
  plot.append("path").datum(initialLevel).attr("d", line)
    .attr("fill", "none").attr("stroke", "#000").attr("stroke-width", 1.3)
    .attr("stroke-dasharray", "12,7");

  // measurements: densely sampled point markers, merged into a band
  const meas = plot.append("g");
  meas.selectAll("path").data(runsOf(p.soares, 0.03)).join("path")
    .attr("d", line).attr("fill", "none").attr("stroke", GREEN)
    .attr("stroke-width", markerR * 2).attr("stroke-linecap", "round").attr("stroke-linejoin", "round");
  meas.selectAll("circle").data(p.soares).join("circle")
    .attr("cx", d => x(d[0])).attr("cy", d => y(d[1])).attr("r", markerR)
    .attr("fill", GREEN);

  // bottom sill
  plot.append("path").datum(obstacle).attr("d", line)
    .attr("fill", "none").attr("stroke", "#000").attr("stroke-width", 1.2);

  // simulation
  plot.append("path").datum(p.comflow).attr("d", line)
    .attr("fill", "none").attr("stroke", RED).attr("stroke-width", 1.2)
    .attr("stroke-linejoin", "round");

  // axes (inward ticks on all four sides)
  const styleAxis = g => {
    g.attr("font-family", FONT).attr("font-size", 18.5);
    g.select(".domain").attr("stroke", "#000").attr("stroke-width", 1.1);
    g.selectAll(".tick line").attr("stroke", "#000").attr("stroke-width", 1);
    g.selectAll(".tick text").attr("fill", "#111");
  };

  svg.append("g").attr("transform", `translate(0,${bottom})`)
    .call(d3.axisBottom(x).tickValues(xTicks).tickFormat(d3.format("d"))
      .tickSizeInner(-6).tickSizeOuter(0).tickPadding(8))
    .call(styleAxis);

  svg.append("g").attr("transform", `translate(0,${top})`)
    .call(d3.axisTop(x).tickValues(xTicks).tickFormat(() => "")
      .tickSizeInner(-6).tickSizeOuter(0))
    .call(styleAxis);

  svg.append("g").attr("transform", `translate(${plotLeft},0)`)
    .call(d3.axisLeft(y).tickValues(yTicks).tickFormat(d3.format(".2f"))
      .tickSizeInner(-7).tickSizeOuter(0).tickPadding(7.7))
    .call(styleAxis)
    .call(g => g.selectAll(".tick text").attr("dy", "0.42em"));

  svg.append("g").attr("transform", `translate(${x(xMax)},0)`)
    .call(d3.axisRight(y).tickValues(yTicks).tickFormat(() => "")
      .tickSizeInner(-7).tickSizeOuter(0))
    .call(styleAxis);

  // panel title
  svg.append("text")
    .attr("x", (x(0) + x(xMax)) / 2).attr("y", top - 8)
    .attr("text-anchor", "middle").attr("font-family", FONT).attr("font-size", 22.5)
    .attr("fill", "#111").text(p.title);

  // y label
  svg.append("text")
    .attr("transform", `translate(27,${top + panelH / 2}) rotate(-90)`)
    .attr("text-anchor", "middle").attr("font-family", FONT).attr("font-size", 19)
    .attr("fill", "#111").text(yLabel);
});

// x label below the last panel
svg.append("text")
  .attr("x", (x(0) + x(xMax)) / 2).attr("y", 1155)
  .attr("text-anchor", "middle").attr("font-family", FONT).attr("font-size", 19)
  .attr("fill", "#111").text(xLabel);

// ---------- legend ----------
const legend = svg.append("g");
legend.append("rect")
  .attr("x", 235.5).attr("y", 1197.5).attr("width", 577).attr("height", 50)
  .attr("fill", "#fff").attr("stroke", "#000").attr("stroke-width", 1.1);
legend.selectAll("circle").data([251.7, 284]).join("circle")
  .attr("cx", d => d).attr("cy", 1217).attr("r", 2.2).attr("fill", GREEN);
legend.append("text").attr("x", 311).attr("y", 1225)
  .attr("font-family", FONT).attr("font-size", 22.5).attr("fill", "#111").text(legendLabels[0]);
legend.append("line").attr("x1", 531).attr("x2", 564).attr("y1", 1217).attr("y2", 1217)
  .attr("stroke", RED).attr("stroke-width", 1.3);
legend.append("text").attr("x", 589.5).attr("y", 1225)
  .attr("font-family", FONT).attr("font-size", 22.5).attr("fill", "#111").text(legendLabels[1]);
</script>
</body>
</html>
